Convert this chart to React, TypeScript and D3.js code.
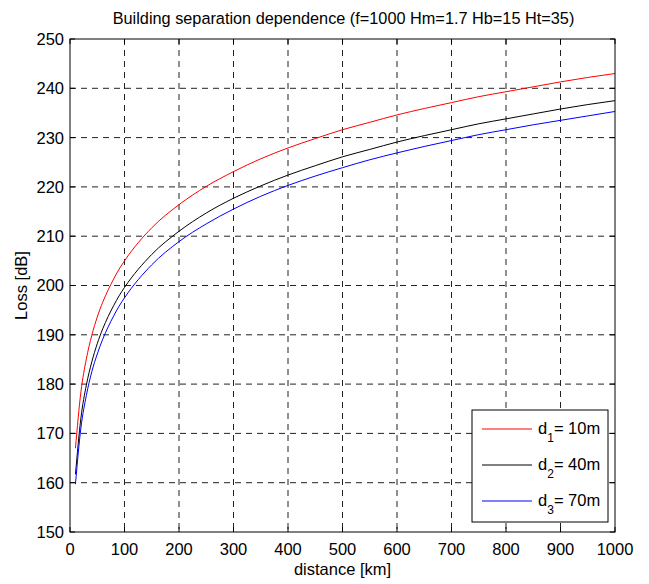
import React from "react";
import * as d3 from "d3";

const title = "Building separation dependence (f=1000 Hm=1.7 Hb=15 Ht=35)";
const xLabel = "distance [km]";
const yLabel = "Loss [dB]";

const distances = [10, 20, 30, 40, 50, 60, 70, 80, 90, 100, 150, 200, 250, 300, 350, 400, 450, 500, 550, 600, 650, 700, 750, 800, 850, 900, 950, 1000];

const lossD1 = [167.0, 178.4, 185.1, 189.9, 193.6, 196.6, 199.1, 201.3, 203.3, 205.0, 211.7, 216.4, 220.1, 223.1, 225.7, 227.9, 229.8, 231.6, 233.1, 234.6, 235.9, 237.1, 238.3, 239.3, 240.3, 241.3, 242.2, 243.0];
const lossD2 = [161.7, 173.1, 179.8, 184.5, 188.2, 191.2, 193.7, 195.9, 197.9, 199.6, 206.3, 211.0, 214.7, 217.7, 220.2, 222.4, 224.3, 226.1, 227.6, 229.1, 230.4, 231.6, 232.8, 233.8, 234.8, 235.8, 236.7, 237.5];
const lossD3 = [159.7, 171.1, 177.7, 182.5, 186.1, 189.1, 191.6, 193.8, 195.8, 197.5, 204.2, 208.9, 212.5, 215.5, 218.1, 220.3, 222.2, 223.9, 225.5, 226.9, 228.2, 229.4, 230.6, 231.6, 232.6, 233.5, 234.4, 235.3];

const seriesNames = ["1", "2", "3"];
const seriesValues = ["= 10m", "= 40m", "= 70m"];
const seriesColors = ["#ff0000", "#000000", "#0000ff"];

const xTicks = [0, 100, 200, 300, 400, 500, 600, 700, 800, 900, 1000];
const yTicks = [150, 160, 170, 180, 190, 200, 210, 220, 230, 240, 250];

const W = 649;
const H = 584;
const left = 70;
const right = 615;
const top = 39;
const bottom = 532;
const FONT = "'Liberation Sans', Arial, Helvetica, sans-serif";

export default function App() {
  const x = d3.scaleLinear().domain([0, 1000]).range([left, right]);
  const y = d3.scaleLinear().domain([150, 250]).range([bottom, top]);
  const allSeries = [lossD1, lossD2, lossD3];
  const line = d3
    .line<number>()
    .x((_, i) => x(distances[i]))
    .y((v) => y(v))
    .curve(d3.curveMonotoneX);
  const tickLen = 5;
  const gridColor = "#222";
  const legend = { x0: 472, y0: 410, x1: 608, y1: 522 };
  const legendRowY = [429, 465, 501];

  return (
    <svg
      width={W}
      height={H}
      style={{ position: "absolute", left: 0, top: 0, background: "#fff" }}
      fontFamily={FONT}
    >
      <rect x={0} y={0} width={W} height={H} fill="#fff" />
      <rect x={left} y={top} width={right - left} height={bottom - top} fill="#fff" />
      {/* grid */}
      {xTicks.slice(1, -1).map((t) => (
        <line key={"gx" + t} x1={x(t)} x2={x(t)} y1={top} y2={bottom} stroke={gridColor} strokeWidth={1} strokeDasharray="6,5" />
      ))}
      {yTicks.slice(1, -1).map((t) => (
        <line key={"gy" + t} x1={left} x2={right} y1={y(t)} y2={y(t)} stroke={gridColor} strokeWidth={1} strokeDasharray="6,5" />
      ))}
      {/* curves */}
      {allSeries.map((s, i) => (
        <path key={"s" + i} d={line(s) || ""} fill="none" stroke={seriesColors[i]} strokeWidth={1} />
      ))}
      {/* axes box */}
      <rect x={left} y={top} width={right - left} height={bottom - top} fill="none" stroke="#000" strokeWidth={1} />
      {xTicks.map((t) => (
        <g key={"xt" + t}>
          <line x1={x(t)} x2={x(t)} y1={bottom} y2={bottom - tickLen} stroke="#000" />
          <line x1={x(t)} x2={x(t)} y1={top} y2={top + tickLen} stroke="#000" />
          <text x={x(t)} y={555} textAnchor="middle" fontSize={16.5} fill="#000">
            {t}
          </text>
        </g>
      ))}
      {yTicks.map((t) => (
        <g key={"yt" + t}>
          <line x1={left} x2={left + tickLen} y1={y(t)} y2={y(t)} stroke="#000" />
          <line x1={right} x2={right - tickLen} y1={y(t)} y2={y(t)} stroke="#000" />
          <text x={64} y={y(t)} dy="0.36em" textAnchor="end" fontSize={16.5} fill="#000">
            {t}
          </text>
        </g>
      ))}
      {/* title and labels */}
      <text x={(left + right) / 2 + 1} y={24} textAnchor="middle" fontSize={16.3} fill="#000">
        {title}
      </text>
      <text x={(left + right) / 2} y={575} textAnchor="middle" fontSize={16.5} fill="#000">
        {xLabel}
      </text>
      <text
        transform={`translate(27, ${(top + bottom) / 2}) rotate(-90)`}
        textAnchor="middle"
        fontSize={16.5}
        fill="#000"
      >
        {yLabel}
      </text>
      {/* legend */}
      <rect
        x={legend.x0}
        y={legend.y0}
        width={legend.x1 - legend.x0}
        height={legend.y1 - legend.y0}
        fill="#fff"
        stroke="#000"
        strokeWidth={1}
      />
      {seriesNames.map((n, i) => (
        <g key={"lg" + i}>
          <line x1={482} x2={532} y1={legendRowY[i]} y2={legendRowY[i]} stroke={seriesColors[i]} strokeWidth={1} />
          <text x={538} y={legendRowY[i] + 5} fontSize={16.5} fill="#000">
            d
            <tspan dy={8} fontSize={12}>{n}</tspan>
            <tspan dy={-8} fontSize={16.5}>{seriesValues[i]}</tspan>
          </text>
        </g>
      ))}
    </svg>
  );
}
